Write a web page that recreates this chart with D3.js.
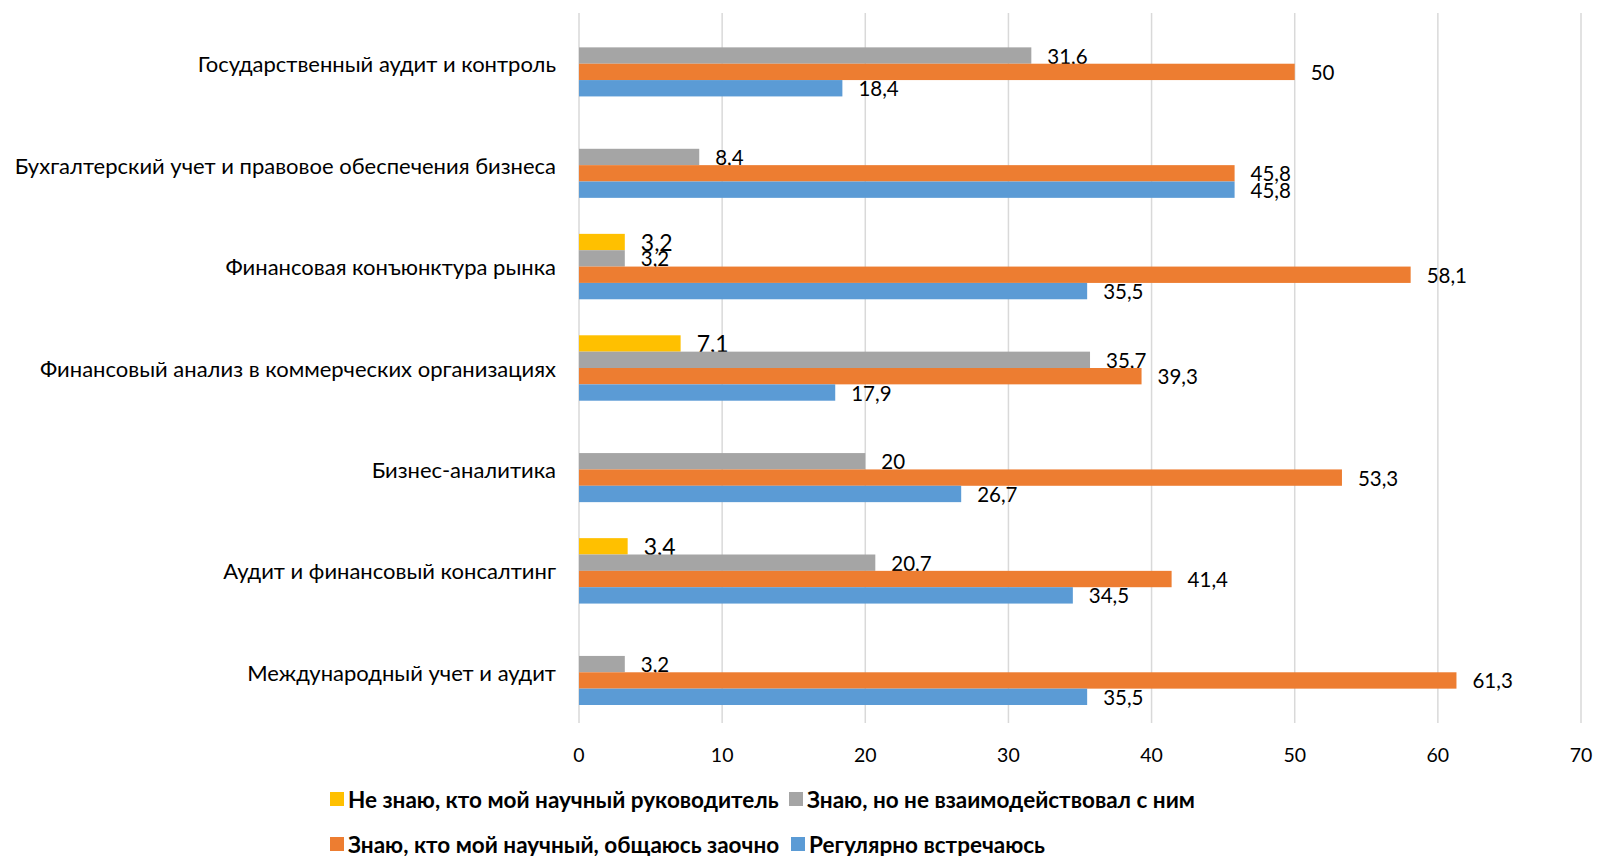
<!DOCTYPE html>
<html><head><meta charset="utf-8">
<script src="https://cdn.jsdelivr.net/npm/d3@7"></script>
<style>
html,body{margin:0;padding:0;background:#fff;}
svg{display:block;font-family:Lato, "Open Sans", sans-serif;}
</style></head>
<body><svg id="chart" width="1599" height="856"></svg>
<script>
const categories = [
  "Государственный аудит и контроль",
  "Бухгалтерский учет и правовое обеспечения бизнеса",
  "Финансовая конъюнктура рынка",
  "Финансовый анализ в коммерческих организациях",
  "Бизнес-аналитика",
  "Аудит и финансовый консалтинг",
  "Международный учет и аудит"
];
const seriesNames = [
  "Не знаю, кто мой научный руководитель",
  "Знаю, но не взаимодействовал с ним",
  "Знаю, кто мой научный, общаюсь заочно",
  "Регулярно встречаюсь"
];
const seriesColors = ["#FFC000", "#A5A5A5", "#ED7D31", "#5B9BD5"];
const notKnow      = [null, null, 3.2, 7.1, null, 3.4, null];
const knowNoContact = [31.6, 8.4, 3.2, 35.7, 20, 20.7, 3.2];
const knowRemote   = [50, 45.8, 58.1, 39.3, 53.3, 41.4, 61.3];
const regularly    = [18.4, 45.8, 35.5, 17.9, 26.7, 34.5, 35.5];
const xTicks = [0, 10, 20, 30, 40, 50, 60, 70];

const seriesValues = [notKnow, knowNoContact, knowRemote, regularly];

const svg = d3.select("#chart");
const pLeft = 579, pRight = 1581, pTop = 13, pBottom = 723;

const x = d3.scaleLinear().domain([0, 70]).range([pLeft, pRight]);
const y = d3.scaleBand().domain(categories).range([pTop, pBottom]).paddingInner(0.355).paddingOuter(0.1775);
const ySub = d3.scaleBand().domain(d3.range(4)).range([0, y.bandwidth()]);

// gridlines
svg.append("g").selectAll("line").data(xTicks).join("line")
  .attr("x1", d => x(d)).attr("x2", d => x(d))
  .attr("y1", pTop).attr("y2", pBottom)
  .attr("stroke", "#D9D9D9").attr("stroke-width", 1.5);

// tick labels
svg.append("g").selectAll("text").data(xTicks).join("text")
  .attr("x", d => x(d)).attr("y", 754)
  .attr("text-anchor", "middle").attr("dominant-baseline", "central")
  .attr("font-size", 19.5).attr("fill", "#000").text(d => d);

// category labels
svg.append("g").selectAll("text").data(categories).join("text")
  .attr("x", 556).attr("y", d => y(d) + y.bandwidth() / 2)
  .attr("text-anchor", "end").attr("dominant-baseline", "central")
  .attr("font-size", 22).attr("fill", "#000").text(d => d);

const fmt = v => String(v).replace(".", ",");

seriesValues.forEach((vals, si) => {
  const data = categories.map((c, i) => ({c, v: vals[i]})).filter(d => d.v != null);
  const g = svg.append("g");
  g.selectAll("rect").data(data).join("rect")
    .attr("x", x(0)).attr("y", d => y(d.c) + ySub(si))
    .attr("width", d => x(d.v) - x(0)).attr("height", ySub.bandwidth())
    .attr("fill", seriesColors[si]);
  g.selectAll("text").data(data).join("text")
    .attr("x", d => x(d.v) + 16)
    .attr("y", d => y(d.c) + ySub(si) + ySub.bandwidth() / 2)
    .attr("dominant-baseline", "central")
    .attr("font-size", si === 0 ? 23 : 20.5).attr("fill", "#000")
    .text(d => fmt(d.v));
});

// legend
const legendPos = [[330, 799], [789, 799], [330, 844], [791, 844]];
seriesNames.forEach((name, i) => {
  const [lx, ly] = legendPos[i];
  svg.append("rect").attr("x", lx).attr("y", ly - 7).attr("width", 14).attr("height", 14)
    .attr("fill", seriesColors[i]);
  svg.append("text").attr("x", lx + 18).attr("y", ly)
    .attr("dominant-baseline", "central").attr("font-size", 22.5).attr("font-weight", "bold")
    .attr("fill", "#000").text(name);
});
</script></body></html>
